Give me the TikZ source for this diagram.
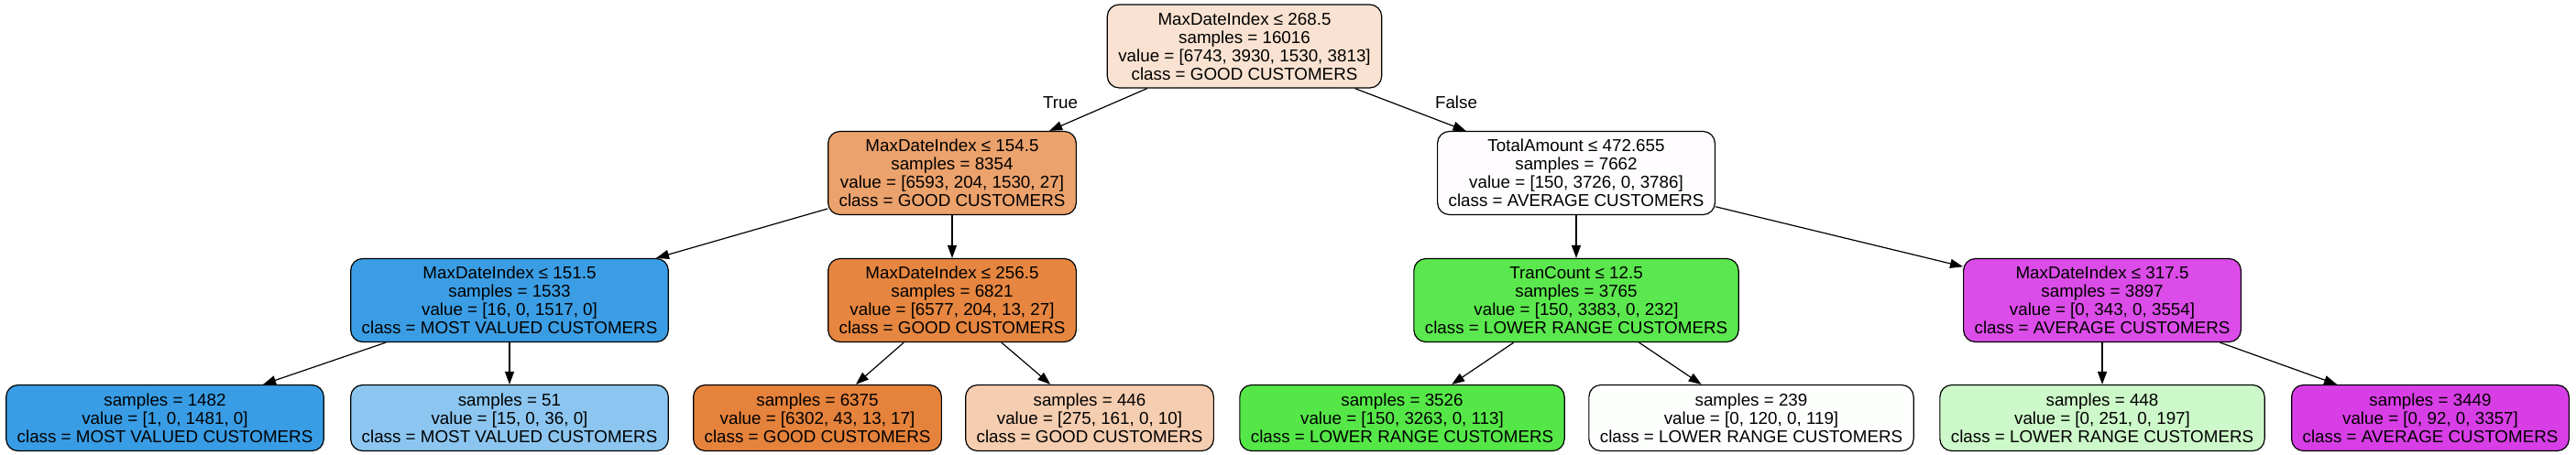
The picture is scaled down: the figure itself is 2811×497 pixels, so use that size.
\documentclass[tikz,border=0pt]{standalone}
\usepackage{fontspec}
\setmainfont{Liberation Sans}
\usepackage{xcolor}
\usepackage{tikz}
\usetikzlibrary{arrows.meta}

\definecolor{cRoot}{RGB}{249,226,209}
\definecolor{cL}{RGB}{236,162,108}
\definecolor{cR}{RGB}{254,252,255}
\definecolor{cLL}{RGB}{59,158,229}
\definecolor{cLR}{RGB}{230,134,64}
\definecolor{cRL}{RGB}{91,232,78}
\definecolor{cRR}{RGB}{219,76,232}
\definecolor{cLLL}{RGB}{57,157,229}
\definecolor{cLLR}{RGB}{140,198,240}
\definecolor{cLRL}{RGB}{229,130,59}
\definecolor{cLRR}{RGB}{245,205,176}
\definecolor{cRLL}{RGB}{85,231,72}
\definecolor{cRLR}{RGB}{253,255,253}
\definecolor{cRRL}{RGB}{205,248,201}
\definecolor{cRRR}{RGB}{216,62,230}

\begin{document}
\begin{tikzpicture}[x=0.5pt,y=-0.5pt]
		\useasboundingbox (0,0) rectangle (2811,497);
		
		\begin{scope}[every node/.style={rectangle,rounded corners=6.5pt,draw=black,line width=0.6pt,
				align=center,inner xsep=6pt,inner ysep=1pt,minimum height=45.5pt,
				font=\fontsize{9.4}{10}\selectfont}]
			\node[fill=cRoot] (root) at (1358,50.5) {MaxDateIndex ≤ 268.5\\samples = 16016\\value = [6743, 3930, 1530, 3813]\\class = GOOD CUSTOMERS};
			\node[fill=cL] (l) at (1039,189) {MaxDateIndex ≤ 154.5\\samples = 8354\\value = [6593, 204, 1530, 27]\\class = GOOD CUSTOMERS};
			\node[fill=cR] (r) at (1720,189) {TotalAmount ≤ 472.655\\samples = 7662\\value = [150, 3726, 0, 3786]\\class = AVERAGE CUSTOMERS};
			\node[fill=cLL] (ll) at (556,328) {MaxDateIndex ≤ 151.5\\samples = 1533\\value = [16, 0, 1517, 0]\\class = MOST VALUED CUSTOMERS};
			\node[fill=cLR] (lr) at (1039,328) {MaxDateIndex ≤ 256.5\\samples = 6821\\value = [6577, 204, 13, 27]\\class = GOOD CUSTOMERS};
			\node[fill=cRL] (rl) at (1720,328) {TranCount ≤ 12.5\\samples = 3765\\value = [150, 3383, 0, 232]\\class = LOWER RANGE CUSTOMERS};
			\node[fill=cRR] (rr) at (2294,328) {MaxDateIndex ≤ 317.5\\samples = 3897\\value = [0, 343, 0, 3554]\\class = AVERAGE CUSTOMERS};
		\end{scope}
		
		\begin{scope}[every node/.style={rectangle,rounded corners=6.5pt,draw=black,line width=0.6pt,
				align=center,inner xsep=6pt,inner ysep=1pt,minimum height=36pt,
				font=\fontsize{9.4}{10}\selectfont}]
			\node[fill=cLLL] (lll) at (180,456.5) {samples = 1482\\value = [1, 0, 1481, 0]\\class = MOST VALUED CUSTOMERS};
			\node[fill=cLLR] (llr) at (556,456.5) {samples = 51\\value = [15, 0, 36, 0]\\class = MOST VALUED CUSTOMERS};
			\node[fill=cLRL] (lrl) at (892,456.5) {samples = 6375\\value = [6302, 43, 13, 17]\\class = GOOD CUSTOMERS};
			\node[fill=cLRR] (lrr) at (1189,456.5) {samples = 446\\value = [275, 161, 0, 10]\\class = GOOD CUSTOMERS};
			\node[fill=cRLL] (rll) at (1530,456.5) {samples = 3526\\value = [150, 3263, 0, 113]\\class = LOWER RANGE CUSTOMERS};
			\node[fill=cRLR] (rlr) at (1911,456.5) {samples = 239\\value = [0, 120, 0, 119]\\class = LOWER RANGE CUSTOMERS};
			\node[fill=cRRL] (rrl) at (2294,456.5) {samples = 448\\value = [0, 251, 0, 197]\\class = LOWER RANGE CUSTOMERS};
			\node[fill=cRRR] (rrr) at (2652,456.5) {samples = 3449\\value = [0, 92, 0, 3357]\\class = AVERAGE CUSTOMERS};
		\end{scope}
		
		\begin{scope}[>={Triangle[length=7pt,width=5pt]},
					  every edge/.style={draw=black,line width=0.6pt}]
			\path [->] (root) edge (l);
			\path [->] (root) edge (r);
			\path [->] (l) edge (ll);
			\path [->] (l) edge (lr);
			\path [->] (r) edge (rl);
			\path [->] (r) edge (rr);
			\path [->] (ll) edge (lll);
			\path [->] (ll) edge (llr);
			\path [->] (lr) edge (lrl);
			\path [->] (lr) edge (lrr);
			\path [->] (rl) edge (rll);
			\path [->] (rl) edge (rlr);
			\path [->] (rr) edge (rrl);
			\path [->] (rr) edge (rrr);
		\end{scope}
		
		\begin{scope}[every node/.style={font=\fontsize{9.4}{10}\selectfont}]
			\node (true) at (1157,112) {True};
			\node (false) at (1589,112) {False};
		\end{scope}
\end{tikzpicture}
\end{document}
